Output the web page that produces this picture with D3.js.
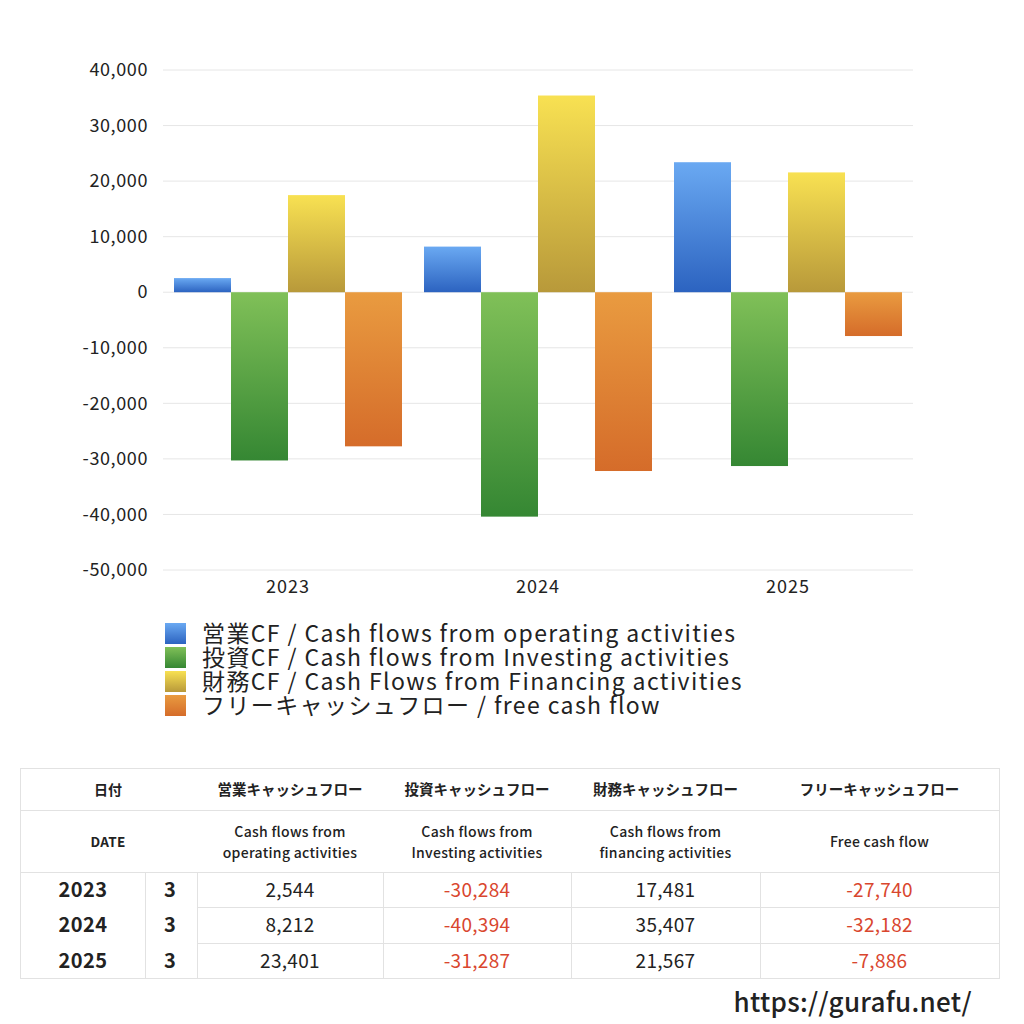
<!DOCTYPE html>
<html>
<head>
<meta charset="utf-8">
<script src="https://cdn.jsdelivr.net/npm/d3@7"></script>
<style>
  body { margin: 0; background: #fff; }
  text { font-family: "Noto Sans CJK JP", "Noto Sans", sans-serif; fill: #222; }
</style>
</head>
<body>
<div id="chart"></div>
<script>
// data
const years = ['2023', '2024', '2025'];
const months = ['3', '3', '3'];
const operating = [2544, 8212, 23401];
const investing = [-30284, -40394, -31287];
const financing = [17481, 35407, 21567];
const freeCF = [-27740, -32182, -7886];
const yTicks = [40000, 30000, 20000, 10000, 0, -10000, -20000, -30000, -40000, -50000];

const seriesNames = [
  '営業CF / Cash flows from operating activities',
  '投資CF / Cash flows from Investing activities',
  '財務CF / Cash Flows from Financing activities',
  'フリーキャッシュフロー / free cash flow'
];
const headJa = ['営業キャッシュフロー', '投資キャッシュフロー', '財務キャッシュフロー', 'フリーキャッシュフロー'];
const headEn = [
  ['Cash flows from', 'operating activities'],
  ['Cash flows from', 'Investing activities'],
  ['Cash flows from', 'financing activities'],
  ['Free cash flow']
];

const series = [operating, investing, financing, freeCF];
// gradient stops: top colour, bottom colour
const grads = [
  ['#6aa9f2', '#2c63c0'],
  ['#80c058', '#358733'],
  ['#f8e152', '#b8993a'],
  ['#e99b40', '#d56c2a']
];

// plain hyphen for negatives, like the original
const fmt = d3.formatLocale({ decimal: '.', thousands: ',', grouping: [3], currency: ['', ''], minus: '-' }).format(',');

const width = 1024, height = 1024;
const margin = { top: 70, bottom: 454, left: 163, right: 111 };

const svg = d3.select('#chart')
  .append('svg')
  .attr('width', width)
  .attr('height', height)
  .attr('viewBox', [0, 0, width, height]);

const defs = svg.append('defs');
grads.forEach((g, i) => {
  const lg = defs.append('linearGradient')
    .attr('id', 'g' + i)
    .attr('x1', 0).attr('y1', 0).attr('x2', 0).attr('y2', 1);
  lg.append('stop').attr('offset', '0%').attr('stop-color', g[0]);
  lg.append('stop').attr('offset', '100%').attr('stop-color', g[1]);
});

const x = d3.scaleBand()
  .domain(years)
  .range([margin.left, width - margin.right])
  .paddingInner(0.088)
  .paddingOuter(0.044);

const xs = d3.scaleBand()
  .domain(d3.range(series.length))
  .range([0, x.bandwidth()]);

const y = d3.scaleLinear()
  .domain([-50000, 40000])
  .range([height - margin.bottom, margin.top]);

// gridlines
svg.append('g')
  .selectAll('line')
  .data(yTicks)
  .join('line')
  .attr('x1', margin.left)
  .attr('x2', width - margin.right)
  .attr('y1', d => y(d))
  .attr('y2', d => y(d))
  .attr('stroke', '#e6e6e6')
  .attr('stroke-width', 1);

// y axis labels
const yAxis = svg.append('g')
  .attr('transform', `translate(${margin.left - 15},0)`)
  .call(d3.axisLeft(y).tickValues(yTicks).tickSize(0).tickPadding(0).tickFormat(fmt));
yAxis.select('.domain').remove();
yAxis.selectAll('text')
  .attr('font-size', '18px')
  .attr('letter-spacing', '0.6px')
  .attr('font-family', '"Noto Sans CJK JP", sans-serif')
  .attr('fill', '#222');

// x axis labels
const xAxis = svg.append('g')
  .attr('transform', `translate(0,${height - margin.bottom + 10})`)
  .call(d3.axisBottom(x).tickSize(0).tickPadding(0));
xAxis.select('.domain').remove();
xAxis.selectAll('text')
  .attr('font-size', '18px')
  .attr('letter-spacing', '1px')
  .attr('font-family', '"Noto Sans CJK JP", sans-serif')
  .attr('fill', '#222');

// bars
const rows = [];
years.forEach((yr, i) => series.forEach((s, k) => rows.push({ yr, k, v: s[i] })));

svg.append('g')
  .selectAll('rect')
  .data(rows)
  .join('rect')
  .attr('x', d => x(d.yr) + xs(d.k))
  .attr('width', xs.bandwidth())
  .attr('y', d => y(Math.max(0, d.v)))
  .attr('height', d => Math.abs(y(d.v) - y(0)))
  .attr('fill', d => `url(#g${d.k})`);

// legend
const legend = svg.append('g')
  .attr('transform', 'translate(165,623)')
  .selectAll('g')
  .data(seriesNames)
  .join('g')
  .attr('transform', (d, i) => `translate(0,${i * 24})`);
legend.append('rect')
  .attr('width', 21).attr('height', 21)
  .attr('fill', (d, i) => `url(#g${i})`);
legend.append('text')
  .attr('x', 37).attr('y', 19)
  .attr('font-size', '23px')
  .attr('letter-spacing', '1.4px')
  .text(d => d);

// table
const tbl = svg.append('g');
const tLeft = 20, tRight = 999;
const colX = [197, 383, 571, 760, 999];
const colC = colX.slice(0, 4).map((c, i) => (c + colX[i + 1]) / 2);
const rowY = [872, 907, 943, 978];
const lineCol = '#e2e2e2';

tbl.append('rect')
  .attr('x', tLeft + 0.5).attr('y', 768.5)
  .attr('width', tRight - tLeft).attr('height', 978 - 768)
  .attr('fill', 'none').attr('stroke', lineCol);
tbl.selectAll('line.h')
  .data([810, 872])
  .join('line')
  .attr('x1', tLeft).attr('x2', tRight)
  .attr('y1', d => d + 0.5).attr('y2', d => d + 0.5)
  .attr('stroke', lineCol);
tbl.selectAll('line.h2')
  .data([907, 943])
  .join('line')
  .attr('x1', 197).attr('x2', tRight)
  .attr('y1', d => d + 0.5).attr('y2', d => d + 0.5)
  .attr('stroke', lineCol);
tbl.selectAll('line.v')
  .data([145, 197, 383, 571, 760])
  .join('line')
  .attr('x1', d => d + 0.5).attr('x2', d => d + 0.5)
  .attr('y1', 872).attr('y2', 978)
  .attr('stroke', lineCol);

// header
tbl.append('text').attr('x', 108).attr('y', 795).attr('text-anchor', 'middle')
  .attr('font-size', '14px').attr('font-weight', 'bold').text('日付');
tbl.append('text').attr('x', 108).attr('y', 847).attr('text-anchor', 'middle')
  .attr('font-size', '13.5px').attr('font-weight', '600').attr('letter-spacing', '0.3px')
  .attr('font-family', '"Noto Sans", sans-serif').text('DATE');
tbl.selectAll('text.hj')
  .data(headJa)
  .join('text')
  .attr('x', (d, i) => colC[i]).attr('y', 795)
  .attr('text-anchor', 'middle')
  .attr('font-size', '14.5px').attr('font-weight', 'bold')
  .text(d => d);
headEn.forEach((lines, i) => {
  tbl.selectAll(null)
    .data(lines)
    .join('text')
    .attr('x', colC[i])
    .attr('y', (d, j) => lines.length === 1 ? 847 : 837 + j * 21)
    .attr('text-anchor', 'middle')
    .attr('font-size', '14px').attr('font-weight', '500')
    .attr('letter-spacing', '0.3px')
    .attr('font-family', '"Noto Sans", sans-serif')
    .text(d => d);
});

// data rows
years.forEach((yr, i) => {
  const cy = (rowY[i] + rowY[i + 1]) / 2 + 7;
  tbl.append('text').attr('x', 83).attr('y', cy).attr('text-anchor', 'middle')
    .attr('font-size', '20px').attr('font-weight', 'bold').attr('letter-spacing', '0.4px')
    .attr('font-family', '"Noto Sans", sans-serif').text(yr);
  tbl.append('text').attr('x', 170).attr('y', cy).attr('text-anchor', 'middle')
    .attr('font-size', '20px').attr('font-weight', 'bold')
    .attr('font-family', '"Noto Sans", sans-serif').text(months[i]);
  series.forEach((s, k) => {
    tbl.append('text')
      .attr('x', colC[k]).attr('y', cy)
      .attr('text-anchor', 'middle')
      .attr('font-size', '19px')
      .attr('letter-spacing', '0.3px')
      .style('fill', s[i] < 0 ? '#d9462e' : '#222')
      .text(fmt(s[i]));
  });
});

// site url
svg.append('text')
  .attr('x', 972).attr('y', 1012)
  .attr('text-anchor', 'end')
  .attr('font-size', '26px')
  .attr('font-weight', '500')
  .attr('letter-spacing', '0.3px')
  .attr('font-family', '"Noto Sans", sans-serif')
  .text('https://gurafu.net/');
</script>
</body>
</html>
